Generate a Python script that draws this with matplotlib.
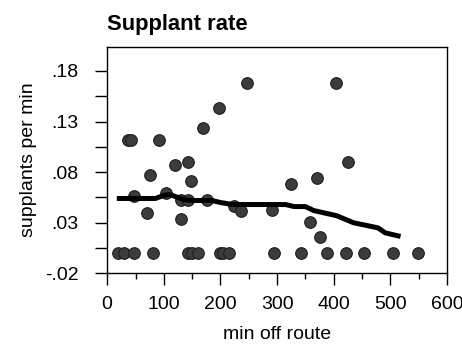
import matplotlib
matplotlib.use("Agg")
import matplotlib.pyplot as plt
import numpy as np
from matplotlib.ticker import MultipleLocator, FixedLocator

plt.rcParams["font.family"] = ["Liberation Sans", "DejaVu Sans"]

# scatter: minutes off route vs supplants per minute
pt_x = [19, 29, 47, 81, 143, 149, 160, 199, 205, 215, 295, 342, 388, 421, 454, 504, 549,
        37, 42, 92, 246, 198, 170, 120, 143, 75, 148, 48, 103, 131, 143, 177, 70, 131,
        224, 237, 291, 404, 425, 370, 325, 358, 376]
pt_y = [0, 0, 0, 0, 0, 0, 0, 0, 0, 0, 0, 0, 0, 0, 0, 0, 0,
        0.112, 0.112, 0.112, 0.1685, 0.143, 0.124, 0.087, 0.090, 0.077, 0.071, 0.056,
        0.059, 0.052, 0.052, 0.052, 0.040, 0.034, 0.047, 0.042, 0.043, 0.1685, 0.090,
        0.0745, 0.068, 0.0305, 0.0155]

# smoothed trend line
line_x = [17, 60, 85, 100, 110, 125, 135, 150, 185, 200, 222, 270, 315, 330, 350,
          365, 405, 435, 478, 491, 518]
line_y = [0.054, 0.054, 0.054, 0.057, 0.058, 0.055, 0.053, 0.052, 0.052, 0.050, 0.048,
          0.048, 0.048, 0.046, 0.046, 0.042, 0.037, 0.030, 0.025, 0.020, 0.0165]

y_ticks = [-0.02, 0.03, 0.08, 0.13, 0.18]
y_labels = ["-.02", ".03", ".08", ".13", ".18"]

fig = plt.figure(figsize=(4.62, 3.5), dpi=100)
ax = fig.add_axes([0.232, 0.219, 0.7355, 0.6476])

ax.scatter(pt_x, pt_y, s=70, facecolor="#3c3c3c", edgecolor="#1e1e1e", linewidth=0.8, zorder=3)
ax.plot(line_x, line_y, color="black", linewidth=3.6, solid_capstyle="butt", zorder=4)

ax.set_xlim(0, 600)
ax.set_ylim(-0.02, 0.204)
ax.xaxis.set_major_locator(MultipleLocator(100))
ax.xaxis.set_minor_locator(MultipleLocator(50))
ax.yaxis.set_major_locator(FixedLocator(y_ticks))
ax.yaxis.set_minor_locator(FixedLocator([0.005, 0.055, 0.105, 0.155]))
ax.set_yticklabels(y_labels)

ax.tick_params(axis="both", which="both", direction="out", labelsize=14, width=1)
ax.tick_params(axis="x", which="major", length=8.6, pad=8)
ax.tick_params(axis="x", which="minor", length=4.3)
ax.tick_params(axis="y", which="both", length=8.6, pad=12)
for s in ax.spines.values():
    s.set_linewidth(1)

ax.set_xlabel("min off route", fontsize=14, labelpad=9)
ax.set_ylabel("supplants per min", fontsize=14, labelpad=6)
ax.set_title("Supplant rate", fontsize=15.8, fontweight="bold", loc="left", pad=12)

fig.savefig("out.png", dpi=100)
